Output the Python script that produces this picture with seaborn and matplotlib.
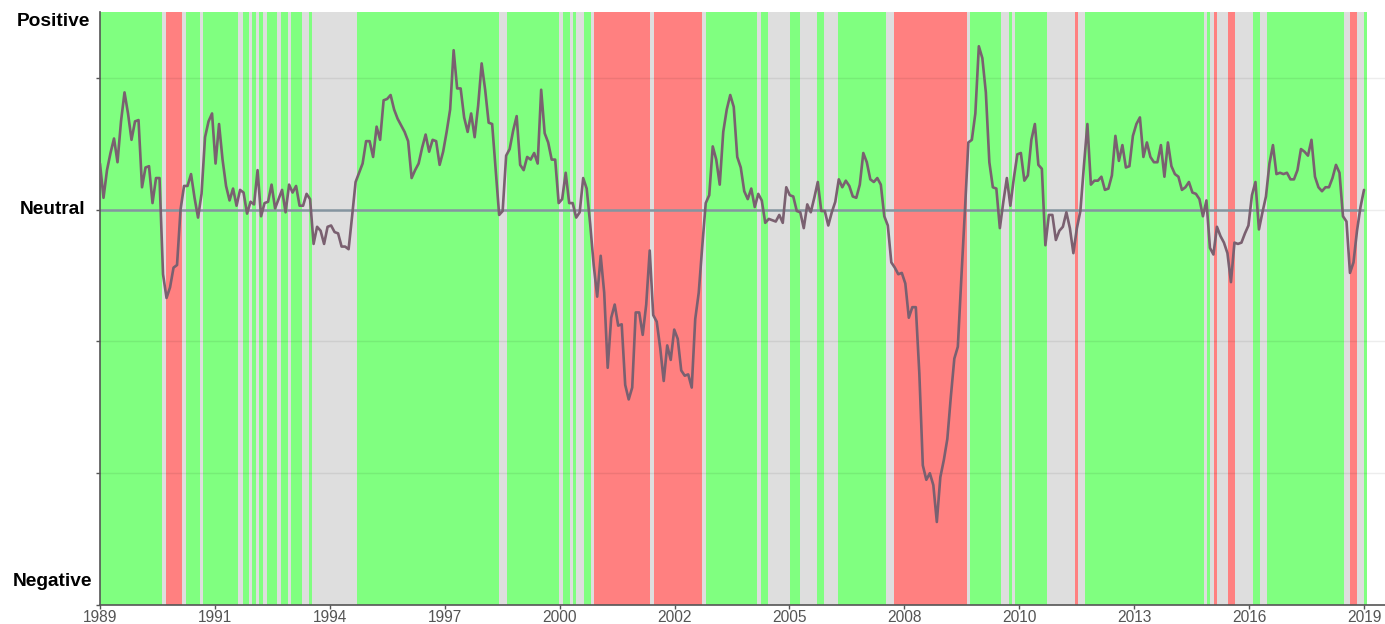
import numpy as np
import pandas as pd
import matplotlib
matplotlib.use("Agg")
import matplotlib.pyplot as plt
import seaborn as sns

# Monthly sentiment index, Jan 1989 onward (month index 0 = Jan 1989)
sentiment = [
    0.35, 0.09, 0.30, 0.43, 0.54, 0.36, 0.67, 0.89, 0.73, 0.53, 0.67, 0.68,
    0.17, 0.32, 0.33, 0.05, 0.24, 0.24, -0.49, -0.67, -0.59, -0.44, -0.42, 0.00,
    0.18, 0.18, 0.27, 0.09, -0.06, 0.12, 0.55, 0.67, 0.73, 0.35, 0.65, 0.38,
    0.18, 0.07, 0.16, 0.03, 0.15, 0.13, -0.03, 0.06, 0.04, 0.30, -0.05, 0.05,
    0.06, 0.19, 0.01, 0.08, 0.15, -0.02, 0.19, 0.13, 0.18, 0.03, 0.03, 0.12,
    0.08, -0.26, -0.13, -0.16, -0.26, -0.13, -0.12, -0.17, -0.18, -0.28, -0.28, -0.30,
    -0.05, 0.21, 0.28, 0.35, 0.52, 0.52, 0.40, 0.63, 0.53, 0.83, 0.84, 0.87,
    0.76, 0.69, 0.64, 0.59, 0.52, 0.24, 0.30, 0.35, 0.47, 0.57, 0.44, 0.53,
    0.52, 0.34, 0.44, 0.59, 0.76, 1.21, 0.92, 0.92, 0.70, 0.59, 0.73, 0.55,
    0.79, 1.11, 0.91, 0.66, 0.65, 0.30, -0.04, -0.01, 0.41, 0.46, 0.60, 0.71,
    0.34, 0.30, 0.40, 0.38, 0.43, 0.35, 0.91, 0.58, 0.51, 0.38, 0.38, 0.05,
    0.08, 0.28, 0.05, 0.05, -0.06, -0.02, 0.24, 0.16, -0.11, -0.42, -0.66, -0.35,
    -0.63, -1.20, -0.82, -0.72, -0.88, -0.87, -1.33, -1.44, -1.35, -0.78, -0.78, -0.95,
    -0.72, -0.31, -0.80, -0.85, -1.05, -1.30, -1.03, -1.14, -0.91, -0.98, -1.22, -1.26,
    -1.25, -1.35, -0.83, -0.63, -0.28, 0.05, 0.11, 0.48, 0.38, 0.19, 0.59, 0.76,
    0.87, 0.78, 0.40, 0.32, 0.14, 0.08, 0.16, 0.02, 0.12, 0.07, -0.10, -0.07,
    -0.08, -0.09, -0.04, -0.10, 0.17, 0.11, 0.10, -0.01, -0.02, -0.14, 0.04, -0.02,
    0.09, 0.21, -0.01, -0.01, -0.12, -0.02, 0.06, 0.23, 0.17, 0.22, 0.18, 0.10,
    0.09, 0.19, 0.43, 0.36, 0.23, 0.21, 0.24, 0.19, -0.05, -0.12, -0.40, -0.44,
    -0.49, -0.48, -0.56, -0.82, -0.74, -0.74, -1.24, -1.94, -2.05, -2.00, -2.09, -2.37,
    -2.03, -1.90, -1.74, -1.42, -1.13, -1.04, -0.52, -0.02, 0.51, 0.53, 0.73, 1.24,
    1.15, 0.89, 0.36, 0.17, 0.16, -0.14, 0.06, 0.24, 0.03, 0.24, 0.42, 0.43,
    0.22, 0.26, 0.53, 0.65, 0.34, 0.31, -0.27, -0.04, -0.04, -0.23, -0.16, -0.13,
    -0.02, -0.14, -0.33, -0.14, -0.01, 0.33, 0.65, 0.19, 0.22, 0.22, 0.25, 0.15,
    0.16, 0.26, 0.56, 0.37, 0.49, 0.32, 0.33, 0.56, 0.65, 0.70, 0.40, 0.51,
    0.40, 0.36, 0.36, 0.49, 0.25, 0.51, 0.33, 0.27, 0.25, 0.15, 0.17, 0.21,
    0.13, 0.12, 0.08, -0.05, 0.07, -0.29, -0.34, -0.13, -0.20, -0.25, -0.33, -0.55,
    -0.25, -0.26, -0.25, -0.18, -0.12, 0.11, 0.21, -0.15, -0.02, 0.10, 0.35, 0.49,
    0.27, 0.28, 0.27, 0.28, 0.23, 0.23, 0.30, 0.46, 0.44, 0.41, 0.53, 0.25,
    0.17, 0.14, 0.17, 0.17, 0.24, 0.34, 0.28, -0.05, -0.09, -0.48, -0.40, -0.16,
    0.02, 0.15,
]

# Regime bands: start (in months since Jan 1989) and state (G=positive, N=neutral, R=negative)
band_starts = [
    -0.5, 17.7, 18.75, 23.55, 24.45, 28.55, 29.5, 39.5, 40.7, 42.5,
    43.5, 44.5, 45.5, 46.5, 47.6, 50.6, 51.7, 53.7, 54.65, 57.65,
    59.55, 60.65, 73.3, 114.0, 116.1, 131.0, 132.1, 134.1, 135.1, 136.0,
    138.3, 140.2, 141.2, 157.1, 158.2, 171.9, 173.1, 187.7, 188.7, 190.9,
    197.0, 199.8, 204.9, 206.8, 210.7, 224.5, 226.8, 247.6, 248.6, 257.4,
    259.5, 260.4, 261.4, 270.5, 278.4, 279.3, 281.4, 315.2, 316.2, 317.1,
    318.2, 319.1, 322.2, 324.2, 329.2, 331.2, 333.4, 355.2, 357.1, 359.0,
    361.1,
]
band_states = [
    "G", "N", "R", "N", "G", "N", "G", "N", "G", "N",
    "G", "N", "G", "N", "G", "N", "G", "N", "G", "N",
    "G", "N", "G", "N", "G", "N", "G", "N", "G", "N",
    "G", "N", "R", "N", "R", "N", "G", "N", "G", "N",
    "G", "N", "G", "N", "G", "N", "R", "N", "G", "N",
    "G", "N", "G", "N", "R", "N", "G", "N", "G", "N",
    "R", "N", "R", "N", "G", "N", "G", "N", "R", "N",
    "G",
]
band_end = 361.9

x_tick_labels = ["1989", "1991", "1994", "1997", "2000", "2002",
                 "2005", "2008", "2010", "2013", "2016", "2019"]
level_labels = ["Positive", "Neutral", "Negative"]
level_values = [1.43, 0.0, -2.82]
neutral_level = 0.0

sns.set_theme(style="white")
plt.rcParams["font.family"] = ["Liberation Sans", "DejaVu Sans"]

W, H = 1385, 624
fig = plt.figure(figsize=(W / 100, H / 100), dpi=100)
ax = fig.add_axes([100 / W, (H - 605) / H, 1285 / W, (605 - 12) / H])

band_colors = {"G": "#80FF80", "R": "#FF8080", "N": "#DEDEDE"}
edges = band_starts + [band_end]
for i, state in enumerate(band_states):
    ax.axvspan(edges[i], edges[i + 1], color=band_colors[state], lw=0, zorder=0)

for yv in [1, 0, -1, -2]:
    ax.axhline(yv, color="black", alpha=0.07, lw=1, zorder=1)

months = np.arange(len(sentiment))
ax.hlines(neutral_level, months[0], months[-1], color="#8595A0", lw=1.8, zorder=2)

df = pd.DataFrame({"month": months, "value": sentiment})
sns.lineplot(data=df, x="month", y="value", ax=ax, color="#7A6070",
             lw=1.9, zorder=3)

ax.set_xlim(0, 367)
ax.set_ylim(-3, 1.5)
ax.set_xticks(np.linspace(0, 361, 12))
ax.set_xticklabels(x_tick_labels, fontsize=11.2, color="#555555")
ax.set_yticks([-3, -2, -1, 0, 1])
ax.set_yticklabels([])
ax.tick_params(axis="both", length=3, width=1, color="#555555", pad=0.3,
               bottom=True, left=True)
ax.set_xlabel("")
ax.set_ylabel("")
ax.grid(False)
for s in ["top", "right"]:
    ax.spines[s].set_visible(False)
for s in ["left", "bottom"]:
    ax.spines[s].set_color("#555555")
    ax.spines[s].set_linewidth(1.2)

for lab, v in zip(level_labels, level_values):
    ax.text(-47 / 1285, v, lab, transform=ax.get_yaxis_transform(),
            ha="center", va="center", fontsize=13.8, fontweight="bold",
            color="black")

fig.savefig("out.png", dpi=100)
